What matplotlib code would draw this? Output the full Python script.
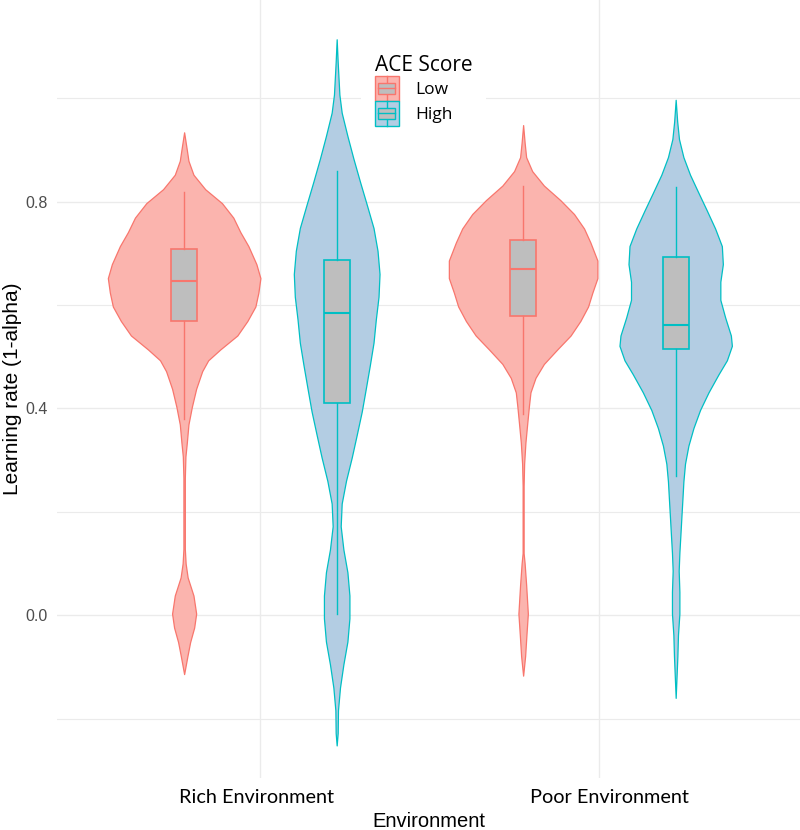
import numpy as np
import matplotlib.pyplot as plt
from matplotlib.legend_handler import HandlerBase
from matplotlib.patches import Rectangle
from matplotlib.lines import Line2D
from matplotlib.transforms import ScaledTranslation

# ---- data ----
environments = ["Rich Environment", "Poor Environment"]
ace_levels = ["Low", "High"]

# violin outlines: learning-rate level and relative density (half width)
rich_low_y = [0.934, 0.90, 0.879, 0.852, 0.824, 0.797, 0.769, 0.741, 0.714, 0.679, 0.652,
              0.624, 0.597, 0.569, 0.541, 0.514, 0.493, 0.472, 0.438, 0.403, 0.369, 0.334,
              0.307, 0.266, 0.128, 0.10, 0.073, 0.038, 0.003, -0.024, -0.052, -0.079, -0.114]
rich_low_dens = [0, 2.7, 4.3, 9.3, 21, 37.7, 49, 56, 64, 72, 76, 74, 71, 63, 53, 36, 24, 18,
                 12, 7.7, 4.3, 2.7, 1.3, 0.7, 0.7, 1.5, 3.5, 9.3, 12, 10, 6, 3.3, 0]

rich_high_y = [1.114, 1.07, 1.007, 0.972, 0.927, 0.883, 0.838, 0.794, 0.749, 0.705, 0.660,
               0.616, 0.572, 0.527, 0.483, 0.438, 0.394, 0.349, 0.305, 0.260, 0.216, 0.172,
               0.127, 0.083, 0.038, -0.006, -0.051, -0.095, -0.140, -0.184, -0.228, -0.252]
rich_high_dens = [0, 1, 2.7, 5, 10.7, 16.7, 23.3, 30, 36.7, 40.7, 42.7, 41.7, 39, 36.7, 33,
                  29, 25, 20, 15, 9.3, 5, 4, 6.7, 10.7, 12.7, 12.7, 10.7, 6.7, 3.3, 1.3, 1, 0]

poor_low_y = [0.948, 0.914, 0.886, 0.859, 0.831, 0.803, 0.776, 0.748, 0.721, 0.686, 0.652,
              0.624, 0.597, 0.569, 0.541, 0.514, 0.486, 0.459, 0.431, 0.403, 0.369, 0.334,
              0.293, 0.25, 0.12, 0.10, 0.059, 0.003, -0.038, -0.079, -0.117]
poor_low_dens = [0, 1.5, 3, 9, 20.7, 37, 50.7, 60.7, 67, 74, 74, 69, 64.7, 57, 47.3, 34, 20.7,
                 12.3, 7.3, 5.7, 4, 2.3, 1, 0.5, 0.5, 1.5, 3, 4.7, 3.3, 2, 0]

poor_high_y = [0.997, 0.955, 0.921, 0.886, 0.852, 0.817, 0.783, 0.748, 0.714, 0.679, 0.645,
               0.610, 0.576, 0.541, 0.521, 0.493, 0.466, 0.431, 0.397, 0.362, 0.328, 0.293,
               0.259, 0.224, 0.190, 0.155, 0.121, 0.086, 0.045, 0.003, -0.038, -0.079, -0.16]
poor_high_dens = [0, 1.5, 3.3, 7.7, 14.3, 22.7, 31, 39.3, 46, 47, 44.5, 44.5, 49.3, 55, 56, 51,
                  42.7, 32.7, 24.3, 17.7, 12.7, 9.3, 7.7, 6.7, 5.7, 4.7, 3.7, 3, 3.7, 3.7,
                  2.3, 1.7, 0]

# box stats: lower whisker, q1, median, q3, upper whisker
rich_low_box = [0.379, 0.569, 0.647, 0.709, 0.819]
rich_high_box = [0.003, 0.410, 0.585, 0.687, 0.860]
poor_low_box = [0.390, 0.579, 0.669, 0.726, 0.831]
poor_high_box = [0.269, 0.515, 0.561, 0.692, 0.829]

violins = {
    ("Rich Environment", "Low"): (rich_low_y, rich_low_dens, rich_low_box),
    ("Rich Environment", "High"): (rich_high_y, rich_high_dens, rich_high_box),
    ("Poor Environment", "Low"): (poor_low_y, poor_low_dens, poor_low_box),
    ("Poor Environment", "High"): (poor_high_y, poor_high_dens, poor_high_box),
}

# ---- style ----
fill_colors = {"Low": "#FBB4AE", "High": "#B3CDE3"}
line_colors = {"Low": "#F8766D", "High": "#00BFC4"}
box_grey = "#BEBEBE"
grid_grey = "#EBEBEB"
dodge = 0.225
max_half = 0.225
box_width = 0.077


class ViolinBoxKey(HandlerBase):
    """Legend key: filled square with a small boxplot inside."""

    def create_artists(self, legend, orig_handle, xdescent, ydescent, width, height,
                       fontsize, trans):
        x0, y0 = -xdescent, -ydescent
        edge = orig_handle.get_edgecolor()
        fill = orig_handle.get_facecolor()
        xc = x0 + width / 2
        outer = Rectangle((x0, y0), width, height, facecolor=fill, edgecolor=edge,
                          linewidth=1, transform=trans)
        wl = Line2D([xc, xc], [y0, y0 + 0.28 * height], color=edge, lw=1, transform=trans)
        wh = Line2D([xc, xc], [y0 + 0.72 * height, y0 + height], color=edge, lw=1,
                    transform=trans)
        box = Rectangle((x0 + 0.14 * width, y0 + 0.28 * height), 0.72 * width, 0.44 * height,
                        facecolor=box_grey, edgecolor=edge, linewidth=1, transform=trans)
        med = Line2D([x0 + 0.14 * width, x0 + 0.86 * width], [y0 + height / 2] * 2,
                     color=edge, lw=1, transform=trans)
        return [outer, wl, wh, box, med]


fig = plt.figure(figsize=(8, 8.3), dpi=100)
ax = fig.add_axes([57 / 800, 52 / 830, 743 / 800, 778 / 830])

dens_max = max(max(v[1]) for v in violins.values())

for i, env in enumerate(environments):
    for j, level in enumerate(ace_levels):
        y, dens, box = violins[(env, level)]
        xc = i + 1 + (-dodge if level == "Low" else dodge)
        hw = np.array(dens) / dens_max * max_half
        ax.fill_betweenx(y, xc - hw, xc + hw, facecolor=fill_colors[level],
                         edgecolor=line_colors[level], linewidth=0.9, zorder=2)
        stats = [dict(whislo=box[0], q1=box[1], med=box[2], q3=box[3], whishi=box[4])]
        ax.bxp(stats, positions=[xc], widths=box_width, patch_artist=True,
               showfliers=False, showcaps=False, manage_ticks=False,
               boxprops=dict(facecolor=box_grey, edgecolor=line_colors[level], linewidth=1.2),
               medianprops=dict(color=line_colors[level], linewidth=1.5),
               whiskerprops=dict(color=line_colors[level], linewidth=1.0),
               zorder=3)

ax.set_xlim(0.4, 0.4 + 743 / 339)
ax.set_ylim(-0.315, 1.19)
ax.set_xticks([1, 2])
ax.set_xticklabels(environments, family="Lato", fontsize=14.3, color="black")
ax.set_yticks([0.0, 0.4, 0.8])
ax.set_yticks([-0.2, 0.2, 0.6, 1.0], minor=True)
ax.set_yticklabels(["0.0", "0.4", "0.8"], family="Liberation Sans", fontsize=11.5,
                   color="#4D4D4D")
ax.tick_params(axis="both", which="both", length=0)
ax.tick_params(axis="x", pad=8)
ax.tick_params(axis="y", pad=7)
ax.grid(True, which="major", color=grid_grey, linewidth=1.0, zorder=0)
ax.grid(True, which="minor", axis="y", color=grid_grey, linewidth=0.8, zorder=0)
ax.set_axisbelow(True)
for s in ax.spines.values():
    s.set_visible(False)

# small nudges of the category labels as in the picture
for lbl, dx in zip(ax.get_xticklabels(), [-4, 10]):
    lbl.set_transform(lbl.get_transform() + ScaledTranslation(dx / 100, 0, fig.dpi_scale_trans))

ax.set_xlabel("Environment", family="Liberation Sans", fontsize=14.5, labelpad=4)
ax.set_ylabel("Learning rate (1-alpha)", family="Liberation Sans", fontsize=15, labelpad=2)

handles = [Rectangle((0, 0), 1, 1, facecolor=fill_colors[l], edgecolor=line_colors[l])
           for l in ace_levels]
leg = ax.legend(handles, ace_levels, title="ACE Score", loc="upper left",
                bbox_to_anchor=(352 / 800, 1 - 32 / 830), bbox_transform=fig.transFigure,
                handler_map={Rectangle: ViolinBoxKey()},
                prop={"family": "Open Sans", "size": 12.5},
                title_fontproperties={"family": "Open Sans", "size": 15},
                handlelength=1.4, handleheight=1.85, labelspacing=0.0, handletextpad=0.95,
                borderpad=0.8, alignment="left", frameon=True, fancybox=False,
                facecolor="white", edgecolor="none", framealpha=1)

fig.savefig("out.png", dpi=100, facecolor="white")
